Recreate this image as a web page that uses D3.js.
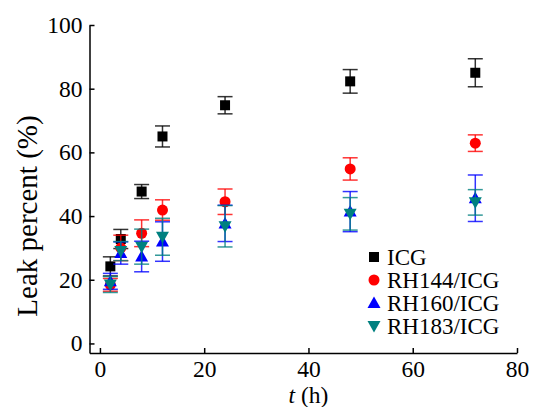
<!DOCTYPE html>
<html>
<head>
<meta charset="utf-8">
<script src="https://cdn.jsdelivr.net/npm/d3@7"></script>
<style>
  body { margin: 0; background: #fff; }
  svg text { font-family: "Liberation Serif", "Times New Roman", serif; }
</style>
</head>
<body>
<svg id="chart" width="535" height="407"></svg>
<script>
// time points (h)
const times = [2, 4, 8, 12, 24, 48, 72];

// leak percent and error for each formulation
const icg = [24.2, 32.8, 47.7, 65.0, 74.8, 82.3, 85.0];
const icgErr = [3, 3, 2.2, 3.3, 2.7, 3.7, 4.4];
const rh144 = [18.4, 30.0, 34.6, 41.9, 44.5, 54.8, 62.9];
const rh144Err = [2, 4, 4.2, 3.2, 4, 3.5, 2.6];
const rh160 = [19.5, 28.4, 27.3, 32.0, 37.7, 41.4, 45.6];
const rh160Err = [2.5, 3.5, 4.8, 6.2, 5.7, 6.3, 7.3];
const rh183 = [18.5, 29.0, 30.4, 33.5, 36.8, 40.7, 44.3];
const rh183Err = [2.5, 3, 5.5, 5.8, 6.5, 5.1, 4];

const seriesNames = ["ICG", "RH144/ICG", "RH160/ICG", "RH183/ICG"];
const colors = ["#000000", "#ff0000", "#0000ff", "#008080"];
const shapes = ["square", "circle", "up", "down"];

const xTicks = [0, 20, 40, 60, 80];
const yTicks = [0, 20, 40, 60, 80, 100];

const svg = d3.select("#chart");

const x = d3.scaleLinear().domain([-2, 80]).range([89.5, 517]);
const y = d3.scaleLinear().domain([-3, 100]).range([353, 25]);

// axes, ticks pointing inward
const xAxis = svg.append("g")
  .attr("transform", `translate(0, ${y(-3)})`)
  .call(d3.axisBottom(x).tickValues(xTicks).tickSizeInner(-5).tickSizeOuter(0).tickPadding(7));
const yAxis = svg.append("g")
  .attr("transform", `translate(${x(-2)}, 0)`)
  .call(d3.axisLeft(y).tickValues(yTicks).tickSizeInner(-5).tickSizeOuter(0).tickPadding(7));

[xAxis, yAxis].forEach(a => {
  a.select(".domain").attr("stroke", "#000").attr("stroke-width", 1.5);
  a.selectAll(".tick line").attr("stroke", "#000").attr("stroke-width", 1.5);
  a.selectAll("text").attr("font-size", 23.5).attr("fill", "#000");
});

// axis titles
const xt = svg.append("text")
  .attr("x", x(40)).attr("y", 403)
  .attr("text-anchor", "middle").attr("font-size", 23.5);
xt.append("tspan").attr("font-style", "italic").text("t");
xt.append("tspan").text(" (h)");

svg.append("text")
  .attr("transform", `translate(37, 216) rotate(-90)`)
  .attr("text-anchor", "middle").attr("font-size", 29)
  .text("Leak percent (%)");

function drawMarker(g, shape, color, cx, cy) {
  if (shape === "square") {
    g.append("rect").attr("x", cx - 5).attr("y", cy - 5)
      .attr("width", 10).attr("height", 10).attr("fill", color);
  } else if (shape === "circle") {
    g.append("circle").attr("cx", cx).attr("cy", cy).attr("r", 5.5).attr("fill", color);
  } else if (shape === "up") {
    g.append("path").attr("d", `M${cx},${cy - 6.5}L${cx + 6.5},${cy + 5}L${cx - 6.5},${cy + 5}Z`).attr("fill", color);
  } else {
    g.append("path").attr("d", `M${cx},${cy + 6.5}L${cx + 6.5},${cy - 5}L${cx - 6.5},${cy - 5}Z`).attr("fill", color);
  }
}

const allVals = [icg, rh144, rh160, rh183];
const allErr = [icgErr, rh144Err, rh160Err, rh183Err];

allVals.forEach((vals, s) => {
  const g = svg.append("g");
  const col = colors[s];
  times.forEach((t, i) => {
    const cx = x(t);
    const top = y(vals[i] + allErr[s][i]);
    const bot = y(vals[i] - allErr[s][i]);
    g.append("line").attr("x1", cx).attr("x2", cx).attr("y1", top).attr("y2", bot)
      .attr("stroke", col).attr("stroke-width", 1.5).attr("stroke-opacity", 0.8);
    [top, bot].forEach(yy => {
      g.append("line").attr("x1", cx - 7.5).attr("x2", cx + 7.5).attr("y1", yy).attr("y2", yy)
        .attr("stroke", col).attr("stroke-width", 1.5).attr("stroke-opacity", 0.8);
    });
  });
  times.forEach((t, i) => drawMarker(g, shapes[s], col, x(t), y(vals[i])));
});

// legend
const legend = svg.append("g");
seriesNames.forEach((name, i) => {
  const cy = 257 + i * 23;
  drawMarker(legend, shapes[i], colors[i], 374, cy);
  legend.append("text").attr("x", 387).attr("y", cy + 8)
    .attr("font-size", 23).text(name);
});
</script>
</body>
</html>
